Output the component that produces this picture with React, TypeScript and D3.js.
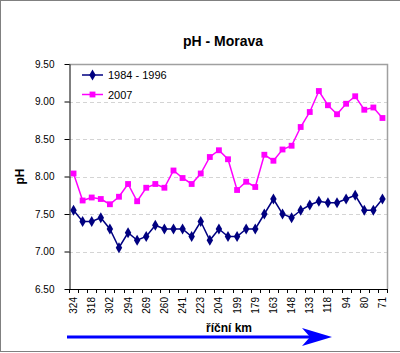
import React, { useEffect, useRef } from 'react';
import * as d3 from 'd3';

// river km (only every second one is labelled on the axis)
const km = [
  '324', '321', '318', '310', '302', '298', '294', '280', '269', '265', '260', '250',
  '241', '230', '223', '212', '204', '201', '199', '190', '179', '170', '163', '155',
  '148', '140', '133', '125', '118', '105', '94', '86', '80', '75', '71',
];
const ph8496 = [
  7.55, 7.4, 7.4, 7.45, 7.3, 7.05, 7.25, 7.15, 7.2, 7.35, 7.3, 7.3,
  7.3, 7.2, 7.4, 7.15, 7.3, 7.2, 7.2, 7.3, 7.3, 7.5, 7.7, 7.5,
  7.45, 7.55, 7.62, 7.67, 7.65, 7.65, 7.7, 7.75, 7.55, 7.55, 7.7,
];
const ph2007 = [
  8.04, 7.68, 7.72, 7.7, 7.63, 7.73, 7.9, 7.67, 7.85, 7.9, 7.85, 8.08,
  7.98, 7.9, 8.04, 8.26, 8.35, 8.23, 7.82, 7.93, 7.86, 8.29, 8.21, 8.36,
  8.41, 8.66, 8.86, 9.14, 8.95, 8.83, 8.97, 9.07, 8.89, 8.92, 8.78,
];
const yTicks = [6.5, 7.0, 7.5, 8.0, 8.5, 9.0, 9.5];
const seriesNames = ['1984 - 1996', '2007'];

const App = () => {
  const svgRef = useRef<SVGSVGElement>(null);

  useEffect(() => {
    document.body.style.margin = '0';
    const width = 400;
    const height = 353;
    const svg = d3.select(svgRef.current);
    svg.selectAll('*').remove();
    svg.attr('width', width).attr('height', height).style('display', 'block');

    const font = 'Arial, "Liberation Sans", sans-serif';
    const left = 69, right = 387, top = 64, bottom = 289;

    const x = d3.scaleBand<number>()
      .domain(d3.range(km.length))
      .range([left, right]);
    const y = d3.scaleLinear().domain([6.5, 9.5]).range([bottom, top]);
    const cx = (i: number) => x(i)! + x.bandwidth() / 2;

    // outer frame
    svg.append('rect')
      .attr('x', 0.5).attr('y', 0.5)
      .attr('width', 401).attr('height', 351)
      .attr('fill', '#fff').attr('stroke', '#808080');

    svg.append('text')
      .attr('x', 223).attr('y', 46)
      .attr('text-anchor', 'middle')
      .style('font', `bold 14px ${font}`)
      .text('pH - Morava');

    // grid
    svg.append('g').selectAll('line')
      .data(yTicks.slice(1, -1))
      .enter().append('line')
      .attr('x1', left).attr('x2', right)
      .attr('y1', d => Math.round(y(d)) + 0.5).attr('y2', d => Math.round(y(d)) + 0.5)
      .attr('stroke', '#d4d4d4').attr('stroke-dasharray', '4,3');

    // plot frame top/right
    svg.append('path')
      .attr('d', `M${left},${top + 0.5}H${right + 0.5}V${bottom}`)
      .attr('fill', 'none').attr('stroke', '#a0a0a0').attr('stroke-width', 1.5);

    // y axis
    const ya = svg.append('g').attr('transform', `translate(${left + 0.5},0)`)
      .call(d3.axisLeft(y).tickValues(yTicks).tickFormat(d3.format('.2f')).tickSize(5).tickSizeOuter(0));
    ya.select('.domain').attr('stroke', '#000');
    ya.selectAll('text').style('font', `10px ${font}`).attr('fill', '#000').attr('x', -15);

    svg.append('text')
      .attr('transform', `translate(24,${(top + bottom) / 2}) rotate(-90)`)
      .attr('text-anchor', 'middle')
      .style('font', `bold 12px ${font}`)
      .text('pH');

    // x axis
    const xa = svg.append('g');
    xa.append('line')
      .attr('x1', left).attr('x2', right + 0.5)
      .attr('y1', bottom + 0.5).attr('y2', bottom + 0.5)
      .attr('stroke', '#000');
    xa.selectAll('line.tick')
      .data(d3.range(km.length + 1))
      .enter().append('line')
      .attr('class', 'tick')
      .attr('x1', i => Math.round(left + i * x.step()) + 0.5)
      .attr('x2', i => Math.round(left + i * x.step()) + 0.5)
      .attr('y1', bottom).attr('y2', bottom + 4)
      .attr('stroke', '#000');
    xa.selectAll('text')
      .data(km.map((k, i) => ({ k, i })).filter(d => d.i % 2 === 0))
      .enter().append('text')
      .attr('transform', d => `translate(${cx(d.i) + 3.5},297) rotate(-90)`)
      .attr('text-anchor', 'end')
      .style('font', `10px ${font}`)
      .text(d => d.k);

    svg.append('text')
      .attr('x', 229).attr('y', 332)
      .attr('text-anchor', 'middle')
      .style('font', `bold 12px ${font}`)
      .text('říční km');

    // arrow
    svg.append('line')
      .attr('x1', 67).attr('x2', 310)
      .attr('y1', 337).attr('y2', 337)
      .attr('stroke', '#0000ff').attr('stroke-width', 3);
    svg.append('path')
      .attr('d', 'M332,337L302,328L310,337L302,346Z')
      .attr('fill', '#0000ff');

    // series
    const series = [
      { values: ph8496, color: '#000080', symbol: d3.symbolDiamond, size: 36 },
      { values: ph2007, color: '#ff00ff', symbol: d3.symbolSquare, size: 34 },
    ];
    const line = d3.line<number>().x((_, i) => cx(i)).y(d => y(d));
    series.forEach(s => {
      svg.append('path')
        .datum(s.values)
        .attr('fill', 'none')
        .attr('stroke', s.color)
        .attr('stroke-width', 1.5)
        .attr('d', line);
      svg.append('g').selectAll('path')
        .data(s.values)
        .enter().append('path')
        .attr('transform', (d, i) => `translate(${cx(i)},${y(d)})`)
        .attr('d', d3.symbol(s.symbol, s.size)())
        .attr('fill', s.color);
    });

    // legend
    const lg = svg.append('g');
    series.forEach((s, i) => {
      const ly = 75 + i * 19.5;
      lg.append('line')
        .attr('x1', 82).attr('x2', 103).attr('y1', ly).attr('y2', ly)
        .attr('stroke', s.color).attr('stroke-width', 1.5);
      lg.append('path')
        .attr('transform', `translate(92.5,${ly})`)
        .attr('d', d3.symbol(s.symbol, s.size)())
        .attr('fill', s.color);
      lg.append('text')
        .attr('x', 108).attr('y', ly + 4)
        .style('font', `11px ${font}`)
        .text(seriesNames[i]);
    });
  }, []);

  return <svg ref={svgRef} />;
};

export default App;
